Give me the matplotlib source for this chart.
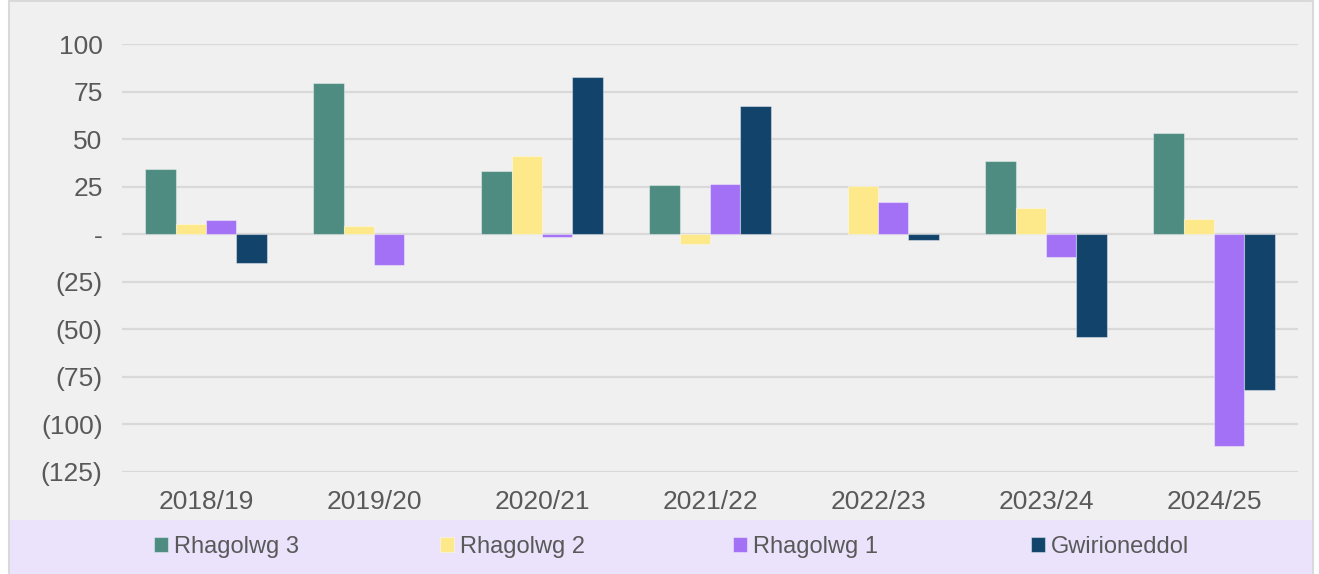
import matplotlib.pyplot as plt
import matplotlib.patches as mpatches
import numpy as np

plt.rcParams['font.family'] = ['Liberation Sans', 'DejaVu Sans']

years = ['2018/19', '2019/20', '2020/21', '2021/22', '2022/23', '2023/24', '2024/25']
series_names = ['Rhagolwg 3', 'Rhagolwg 2', 'Rhagolwg 1', 'Gwirioneddol']
rhagolwg_3 = [34.4, 79.5, 33.0, 25.8, np.nan, 38.7, 53.1]
rhagolwg_2 = [5.3, 4.4, 41.2, -5.1, 25.6, 13.7, 8.0]
rhagolwg_1 = [7.4, -16.3, -1.4, 26.3, 16.8, -12.0, -111.3]
gwirioneddol = [-15.1, np.nan, 82.8, 67.2, -2.8, -54.2, -82.0]
colors = ['#4e8c82', '#fde98a', '#a371f5', '#12436b']

y_ticks = [100, 75, 50, 25, 0, -25, -50, -75, -100, -125]


def fmt(v):
    if v == 0:
        return '-'
    if v < 0:
        return f'({-v})'
    return str(v)


def main():
    fig = plt.figure(figsize=(13.19, 5.74), dpi=100)
    fig.patch.set_facecolor('white')

    # chart area background and legend band (behind the axes)
    W, H = 1319, 574
    fig.patches.append(mpatches.Rectangle((9 / W, 0), 1304 / W, 573 / H, transform=fig.transFigure,
                                          facecolor='#f0f0f0', edgecolor='#d9d9d9', lw=1.5, zorder=-2))
    fig.patches.append(mpatches.Rectangle((10 / W, 0), 1302 / W, 54 / H, transform=fig.transFigure,
                                          facecolor='#ebe2fb', edgecolor='none', zorder=-1))

    ax = fig.add_axes([122 / W, 1 - 472 / H, 1176 / W, 428 / H])
    ax.set_facecolor('none')

    data = [rhagolwg_3, rhagolwg_2, rhagolwg_1, gwirioneddol]
    x = np.arange(len(years))
    width = 0.181
    handles = []
    for i, (vals, c) in enumerate(zip(data, colors)):
        bars = ax.bar(x + (i - 1.5) * width, vals, width, color=c,
                      edgecolor=(1, 1, 1, 0.4), linewidth=0.8, zorder=3)
        handles.append(bars)

    ax.set_xlim(-0.5, len(years) - 0.5)
    ax.set_ylim(-125, 100)
    ax.set_yticks(y_ticks)
    ax.set_yticklabels([fmt(v) for v in y_ticks])
    ax.set_xticks(x)
    ax.set_xticklabels(years)
    ax.grid(axis='y', color='#d9d9d9', lw=1.6, zorder=0)
    ax.tick_params(axis='y', length=0, pad=14, labelsize=19, labelcolor='#595959')
    ax.tick_params(axis='x', length=0, pad=13, labelsize=19, labelcolor='#595959')
    for s in ax.spines.values():
        s.set_visible(False)

    # one legend entry per slot, like the Excel legend row
    leg_x = [154, 440, 733, 1031]
    for h, name, lx in zip(handles, series_names, leg_x):
        fig.legend([h], [name], loc='center left', bbox_to_anchor=(lx / W, 27 / H),
                   frameon=False, fontsize=17, labelcolor='#595959',
                   handlelength=0.6, handleheight=0.6, handletextpad=0.25,
                   borderpad=0, borderaxespad=0)

    plt.savefig('out.png', dpi=100)


if __name__ == '__main__':
    main()
